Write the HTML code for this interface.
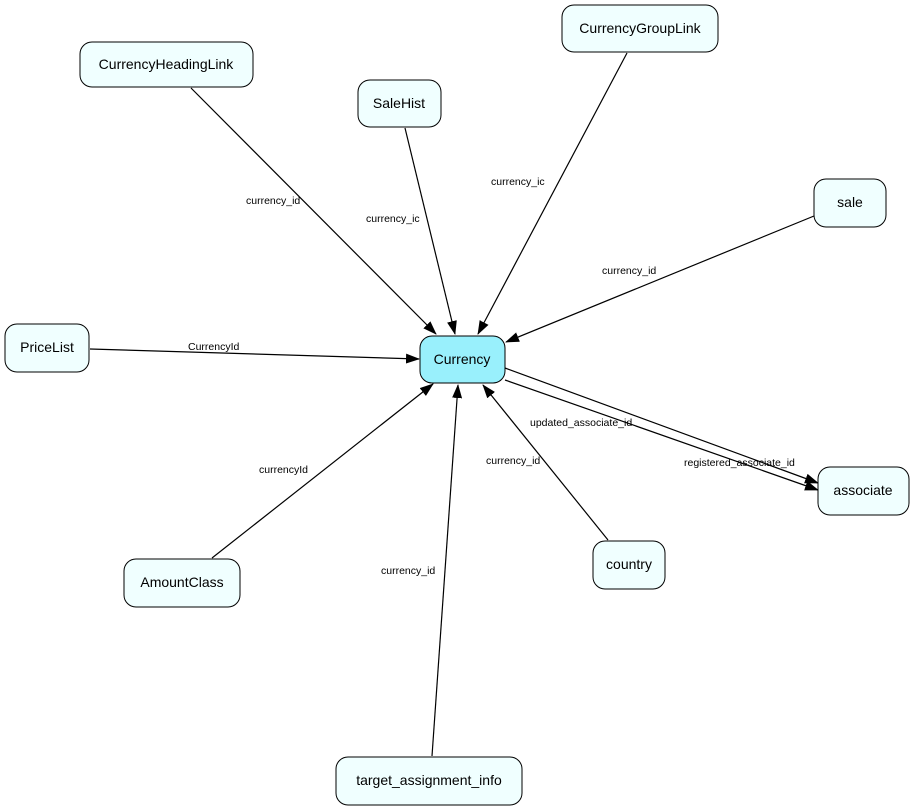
<!DOCTYPE html>
<html><head><style>
html,body{margin:0;padding:0;background:#fff;}
svg{display:block;}
text{font-family:"Liberation Sans",Arial,sans-serif;}
.n{fill:#f0ffff;stroke:#000;stroke-width:1;}
.t{font-size:14px;text-anchor:middle;}
.l{font-size:10.5px;}
.e{stroke:#000;stroke-width:1.2;fill:none;marker-end:url(#a);}
</style></head><body>
<svg width="915" height="811" viewBox="0 0 915 811">
<defs><marker id="a" markerWidth="14" markerHeight="10" refX="13" refY="5" orient="auto" markerUnits="userSpaceOnUse"><path d="M0,0 L14,5 L0,10 z" fill="#000"/></marker></defs>
<line class="e" x1="191" y1="88" x2="436" y2="334"/>
<line class="e" x1="405" y1="128" x2="455" y2="334"/>
<line class="e" x1="627" y1="53" x2="478" y2="334"/>
<line class="e" x1="814" y1="216" x2="506" y2="342"/>
<line class="e" x1="90" y1="349" x2="419" y2="359"/>
<line class="e" x1="212" y1="558" x2="433" y2="384"/>
<line class="e" x1="432" y1="756" x2="458" y2="385"/>
<line class="e" x1="608" y1="540" x2="483" y2="385"/>
<line class="e" x1="505" y1="368" x2="818" y2="483"/>
<line class="e" x1="505" y1="380" x2="818" y2="490"/>
<text class="l" x="246" y="204">currency_id</text>
<text class="l" x="366" y="222">currency_ic</text>
<text class="l" x="491" y="185">currency_ic</text>
<text class="l" x="602" y="274">currency_id</text>
<text class="l" x="188" y="350">CurrencyId</text>
<text class="l" x="259" y="473">currencyId</text>
<text class="l" x="486" y="464">currency_id</text>
<text class="l" x="381" y="574">currency_id</text>
<text class="l" x="530" y="426">updated_associate_id</text>
<text class="l" x="684" y="466">registered_associate_id</text>
<rect class="n" x="80" y="42" width="173" height="45" rx="12"/><text class="t" x="166" y="69">CurrencyHeadingLink</text>
<rect class="n" x="358" y="80" width="83" height="47" rx="12"/><text class="t" x="399" y="108">SaleHist</text>
<rect class="n" x="562" y="5" width="156" height="47" rx="12"/><text class="t" x="640" y="33">CurrencyGroupLink</text>
<rect class="n" x="814" y="179" width="72" height="48" rx="12"/><text class="t" x="850" y="207">sale</text>
<rect class="n" x="5" y="324" width="84" height="48" rx="12"/><text class="t" x="47" y="352">PriceList</text>
<rect x="420" y="336" width="85" height="47" rx="12" fill="#99f0fc" stroke="#000"/><text class="t" x="462" y="364">Currency</text>
<rect class="n" x="818" y="467" width="91" height="48" rx="12"/><text class="t" x="863" y="495">associate</text>
<rect class="n" x="593" y="541" width="72" height="48" rx="12"/><text class="t" x="629" y="569">country</text>
<rect class="n" x="124" y="559" width="116" height="48" rx="12"/><text class="t" x="182" y="587">AmountClass</text>
<rect class="n" x="336" y="757" width="186" height="48" rx="12"/><text class="t" x="429" y="785">target_assignment_info</text>
</svg>
</body></html>
